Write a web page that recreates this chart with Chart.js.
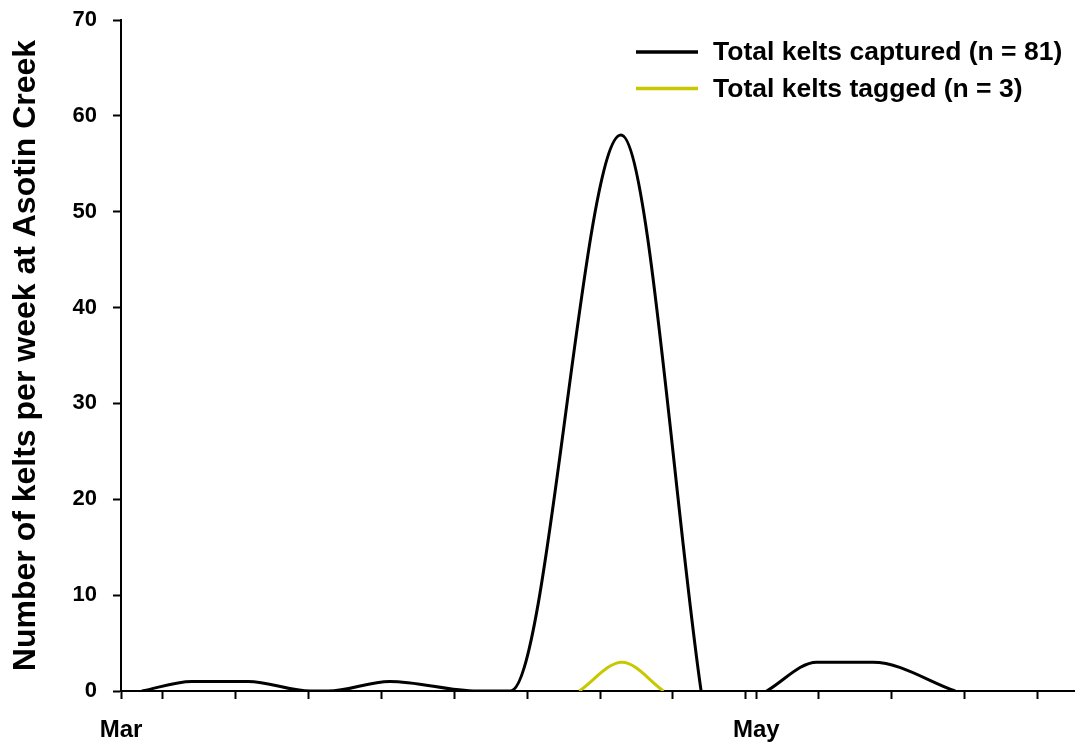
<!DOCTYPE html>
<html>
<head>
<meta charset="utf-8">
<title>Kelts per week at Asotin Creek</title>
<script src="https://cdn.jsdelivr.net/npm/chart.js@4.4.1/dist/chart.umd.min.js"></script>
<style>
  html, body { margin: 0; padding: 0; background: #fff; }
  canvas { display: block; }
</style>
</head>
<body>
<canvas id="keltChart" width="1075" height="748"></canvas>
<script>
// x values are days counted from 1 March
let capturedDays   = [2.0, 6.8, 12.2, 18.2, 19.9, 25.8, 34.2, 37.4, 48.0, 55.7, 58.9, 62.0, 66.8, 72.2, 80.1];
let capturedCounts = [0,   1,   1,    0,    0,    1,    0,    0,    58,   0,    null, 0,    3,    3,    0];
let taggedDays   = [44.0, 48.1, 52.1];
let taggedCounts = [0,    3,    0];

let seriesNames  = ['Total kelts captured (n = 81)', 'Total kelts tagged (n = 3)'];
let seriesColors = ['#000000', '#c8c800'];

let monthDays   = [0, 61];
let monthLabels = ['Mar', 'May'];
let weekTickDays = [4, 11, 18, 25, 32, 39, 46, 53, 60, 67, 74, 81, 88];

let yMin = 0, yMax = 70, yStep = 10;
let xMin = 0, xMax = 91.6;

let yTitle = 'Number of kelts per week at Asotin Creek';

const FONT = '"Liberation Sans", Arial, Helvetica, sans-serif';
Chart.defaults.font.family = FONT;
Chart.defaults.color = '#000';

function toPoints(xs, ys) {
    return xs.map((x, i) => ({ x: x, y: ys[i] }));
}

// legend drawn top right inside the plot, line sample then bold text
const cornerLegend = {
    id: 'cornerLegend',
    afterDraw(chart) {
        let ctx = chart.ctx;
        ctx.save();
        ctx.font = 'bold 26.5px ' + FONT;
        ctx.textBaseline = 'middle';
        ctx.textAlign = 'left';
        chart.data.datasets.forEach((ds, i) => {
            let y = 52 + i * 36.6;
            ctx.strokeStyle = ds.borderColor;
            ctx.lineWidth = 3.5;
            ctx.beginPath();
            ctx.moveTo(636, y);
            ctx.lineTo(698, y);
            ctx.stroke();
            ctx.fillStyle = '#000';
            ctx.fillText(ds.label, 713, y + 1);
        });
        ctx.restore();
    }
};

let ctx = document.getElementById('keltChart').getContext('2d');
let chartInstance = new Chart(ctx, {
    type: 'line',
    data: {
        datasets: [
            {
                label: seriesNames[0],
                data: toPoints(capturedDays, capturedCounts),
                borderColor: seriesColors[0],
                backgroundColor: seriesColors[0],
                borderWidth: 3,
                pointRadius: 0,
                cubicInterpolationMode: 'monotone',
                spanGaps: false
            },
            {
                label: seriesNames[1],
                data: toPoints(taggedDays, taggedCounts),
                borderColor: seriesColors[1],
                backgroundColor: seriesColors[1],
                borderWidth: 3,
                pointRadius: 0,
                cubicInterpolationMode: 'monotone'
            }
        ]
    },
    options: {
        responsive: false,
        animation: false,
        events: [],
        layout: { padding: { top: 20, right: 0, left: 0, bottom: 0 } },
        plugins: {
            legend: { display: false },
            tooltip: { enabled: false }
        },
        scales: {
            x: {
                type: 'linear',
                min: xMin,
                max: xMax,
                afterBuildTicks: (scale) => {
                    let all = monthDays.concat(weekTickDays).sort((a, b) => a - b);
                    scale.ticks = all.map(v => ({ value: v }));
                },
                afterFit: (scale) => { scale.height = 57; },
                ticks: {
                    autoSkip: false,
                    maxRotation: 0,
                    padding: 17,
                    font: { size: 24, weight: 'bold' },
                    callback: (v) => {
                        let k = monthDays.indexOf(v);
                        return k >= 0 ? monthLabels[k] : '';
                    }
                },
                grid: {
                    drawOnChartArea: false,
                    drawTicks: true,
                    tickLength: 8,
                    tickWidth: 2,
                    tickColor: '#000'
                },
                border: { display: true, color: '#000', width: 2 }
            },
            y: {
                min: yMin,
                max: yMax,
                afterFit: (scale) => {
                    scale.width = 121;
                    scale.paddingTop = 0;
                    scale.paddingBottom = 0;
                },
                ticks: {
                    stepSize: yStep,
                    padding: 16,
                    font: { size: 22, weight: 'bold' }
                },
                grid: {
                    drawOnChartArea: false,
                    drawTicks: true,
                    tickLength: 8,
                    tickWidth: 2,
                    tickColor: '#000'
                },
                border: { display: true, color: '#000', width: 2 },
                title: {
                    display: true,
                    text: yTitle,
                    font: { size: 32, weight: 'bold' },
                    padding: { top: 7, bottom: 0 }
                }
            }
        }
    },
    plugins: [cornerLegend]
});
</script>
</body>
</html>
